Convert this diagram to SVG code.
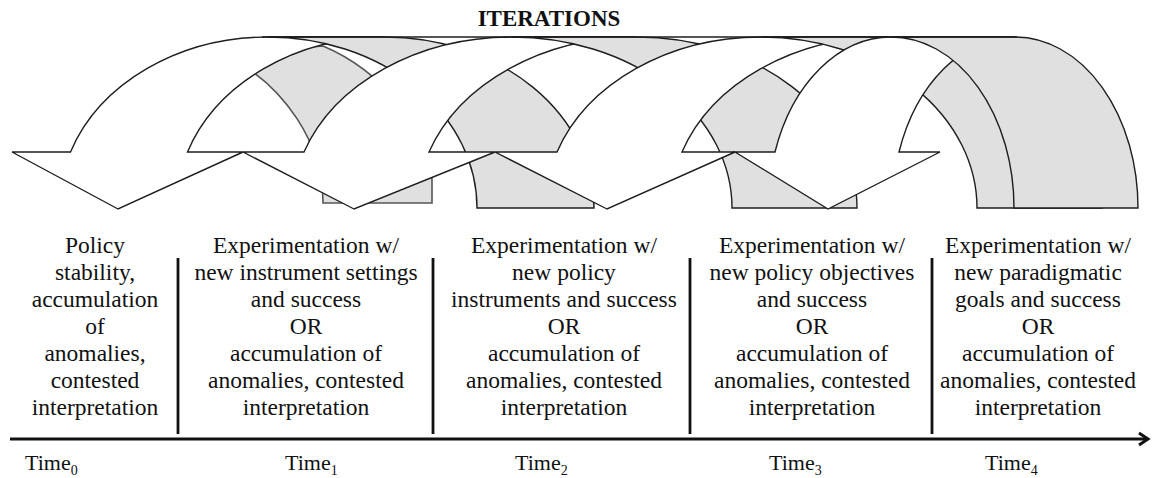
<svg xmlns="http://www.w3.org/2000/svg" width="1153" height="478" viewBox="0 0 1153 478">
<defs>
<style>
.w{fill:#ffffff;stroke:#1e1e1e;stroke-width:1.4;stroke-linejoin:miter}
.g{fill:#e0e0e0;stroke:#1e1e1e;stroke-width:1.4;stroke-linejoin:miter}
.ga{fill:#e0e0e0;stroke:#555555;stroke-width:1.6}
.top{fill:none;stroke:#1e1e1e;stroke-width:1.6}
.t{font-family:"Liberation Serif","Times New Roman",serif;font-size:23.5px;fill:#111111;text-anchor:middle}
.tt{font-family:"Liberation Serif","Times New Roman",serif;font-size:22px;fill:#111111}
.sub{font-size:14px}
.title{font-family:"Liberation Serif","Times New Roman",serif;font-size:23px;font-weight:bold;fill:#111111;text-anchor:middle}
.div{stroke:#111111;stroke-width:2.8}
.axis{stroke:#111111;stroke-width:3;fill:none}
</style>
</defs>
<rect width="1153" height="478" fill="#ffffff"/>
<text class="title" x="549" y="26">ITERATIONS</text>

<g id="iteration-arrows">
<path id="back-band" class="ga" d="M432,203 L432,180 C432,130 380,70 323,46 L255,52 L238,62 C282,88 323,140 323,203 Z"/>
<g id="arrow-1">
<path class="w" d="M118,209 L12,152 L70.5,152 A209,171 0 0 1 268,37 L385,37 A209,171 0 0 0 187.5,152 L243,152 Z"/>
<path class="g" d="M268,37 L385,37 A209,171 0 0 1 594,208 L477,208 A209,171 0 0 0 268,37 Z"/>
</g>
<g id="arrow-2">
<path class="w" d="M354,209 L243,152 L304,152 A220,171 0 0 1 512,37 L637,37 A220,171 0 0 0 429,152 L495,152 Z"/>
<path class="g" d="M512,37 L637,37 A220,171 0 0 1 857,208 L732,208 A220,171 0 0 0 512,37 Z"/>
</g>
<g id="arrow-3">
<path class="w" d="M607,209 L495,152 L557,152 A216,171 0 0 1 761,37 L886,37 A216,171 0 0 0 682,152 L735,152 Z"/>
<path class="g" d="M761,37 L886,37 A216,171 0 0 1 1102,208 L977,208 A216,171 0 0 0 761,37 Z"/>
</g>
<g id="arrow-4">
<path class="w" d="M828,209 L735,152 L775,152 A123,171 0 0 1 891,37 L1015,37 A123,171 0 0 0 899,152 L940,152 Z"/>
<path class="g" d="M891,37 L1015,37 A123,171 0 0 1 1138,208 L1014,208 A123,171 0 0 0 891,37 Z"/>
</g>
<path class="top" d="M262,37 L1017,37"/>
</g>

<g id="timeline">
<line class="axis" x1="10" y1="439" x2="1146" y2="439"/>
<path class="axis" d="M1139,433 L1148,439 L1139,445" stroke-width="2.5"/>
<line class="div" x1="178" y1="258" x2="178" y2="434"/>
<line class="div" x1="433" y1="258" x2="433" y2="434"/>
<line class="div" x1="690" y1="258" x2="690" y2="434"/>
<line class="div" x1="932" y1="258" x2="932" y2="434"/>
</g>

<g id="stage-0">
<text class="t"><tspan x="95" y="253">Policy</tspan><tspan x="95" y="280">stability,</tspan><tspan x="95" y="307">accumulation</tspan><tspan x="95" y="334">of</tspan><tspan x="95" y="361">anomalies,</tspan><tspan x="95" y="388">contested</tspan><tspan x="95" y="415">interpretation</tspan></text>
<text class="tt" x="25" y="470">Time<tspan class="sub" dy="5">0</tspan></text>
</g>
<g id="stage-1">
<text class="t"><tspan x="306" y="253">Experimentation w/</tspan><tspan x="306" y="280">new instrument settings</tspan><tspan x="306" y="307">and success</tspan><tspan x="306" y="334">OR</tspan><tspan x="306" y="361">accumulation of</tspan><tspan x="306" y="388">anomalies, contested</tspan><tspan x="306" y="415">interpretation</tspan></text>
<text class="tt" x="285" y="470">Time<tspan class="sub" dy="5">1</tspan></text>
</g>
<g id="stage-2">
<text class="t"><tspan x="564" y="253">Experimentation w/</tspan><tspan x="564" y="280">new policy</tspan><tspan x="564" y="307">instruments and success</tspan><tspan x="564" y="334">OR</tspan><tspan x="564" y="361">accumulation of</tspan><tspan x="564" y="388">anomalies, contested</tspan><tspan x="564" y="415">interpretation</tspan></text>
<text class="tt" x="515" y="470">Time<tspan class="sub" dy="5">2</tspan></text>
</g>
<g id="stage-3">
<text class="t"><tspan x="812" y="253">Experimentation w/</tspan><tspan x="812" y="280">new policy objectives</tspan><tspan x="812" y="307">and success</tspan><tspan x="812" y="334">OR</tspan><tspan x="812" y="361">accumulation of</tspan><tspan x="812" y="388">anomalies, contested</tspan><tspan x="812" y="415">interpretation</tspan></text>
<text class="tt" x="769" y="470">Time<tspan class="sub" dy="5">3</tspan></text>
</g>
<g id="stage-4">
<text class="t"><tspan x="1038" y="253">Experimentation w/</tspan><tspan x="1038" y="280">new paradigmatic</tspan><tspan x="1038" y="307">goals and success</tspan><tspan x="1038" y="334">OR</tspan><tspan x="1038" y="361">accumulation of</tspan><tspan x="1038" y="388">anomalies, contested</tspan><tspan x="1038" y="415">interpretation</tspan></text>
<text class="tt" x="985" y="470">Time<tspan class="sub" dy="5">4</tspan></text>
</g>
</svg>
